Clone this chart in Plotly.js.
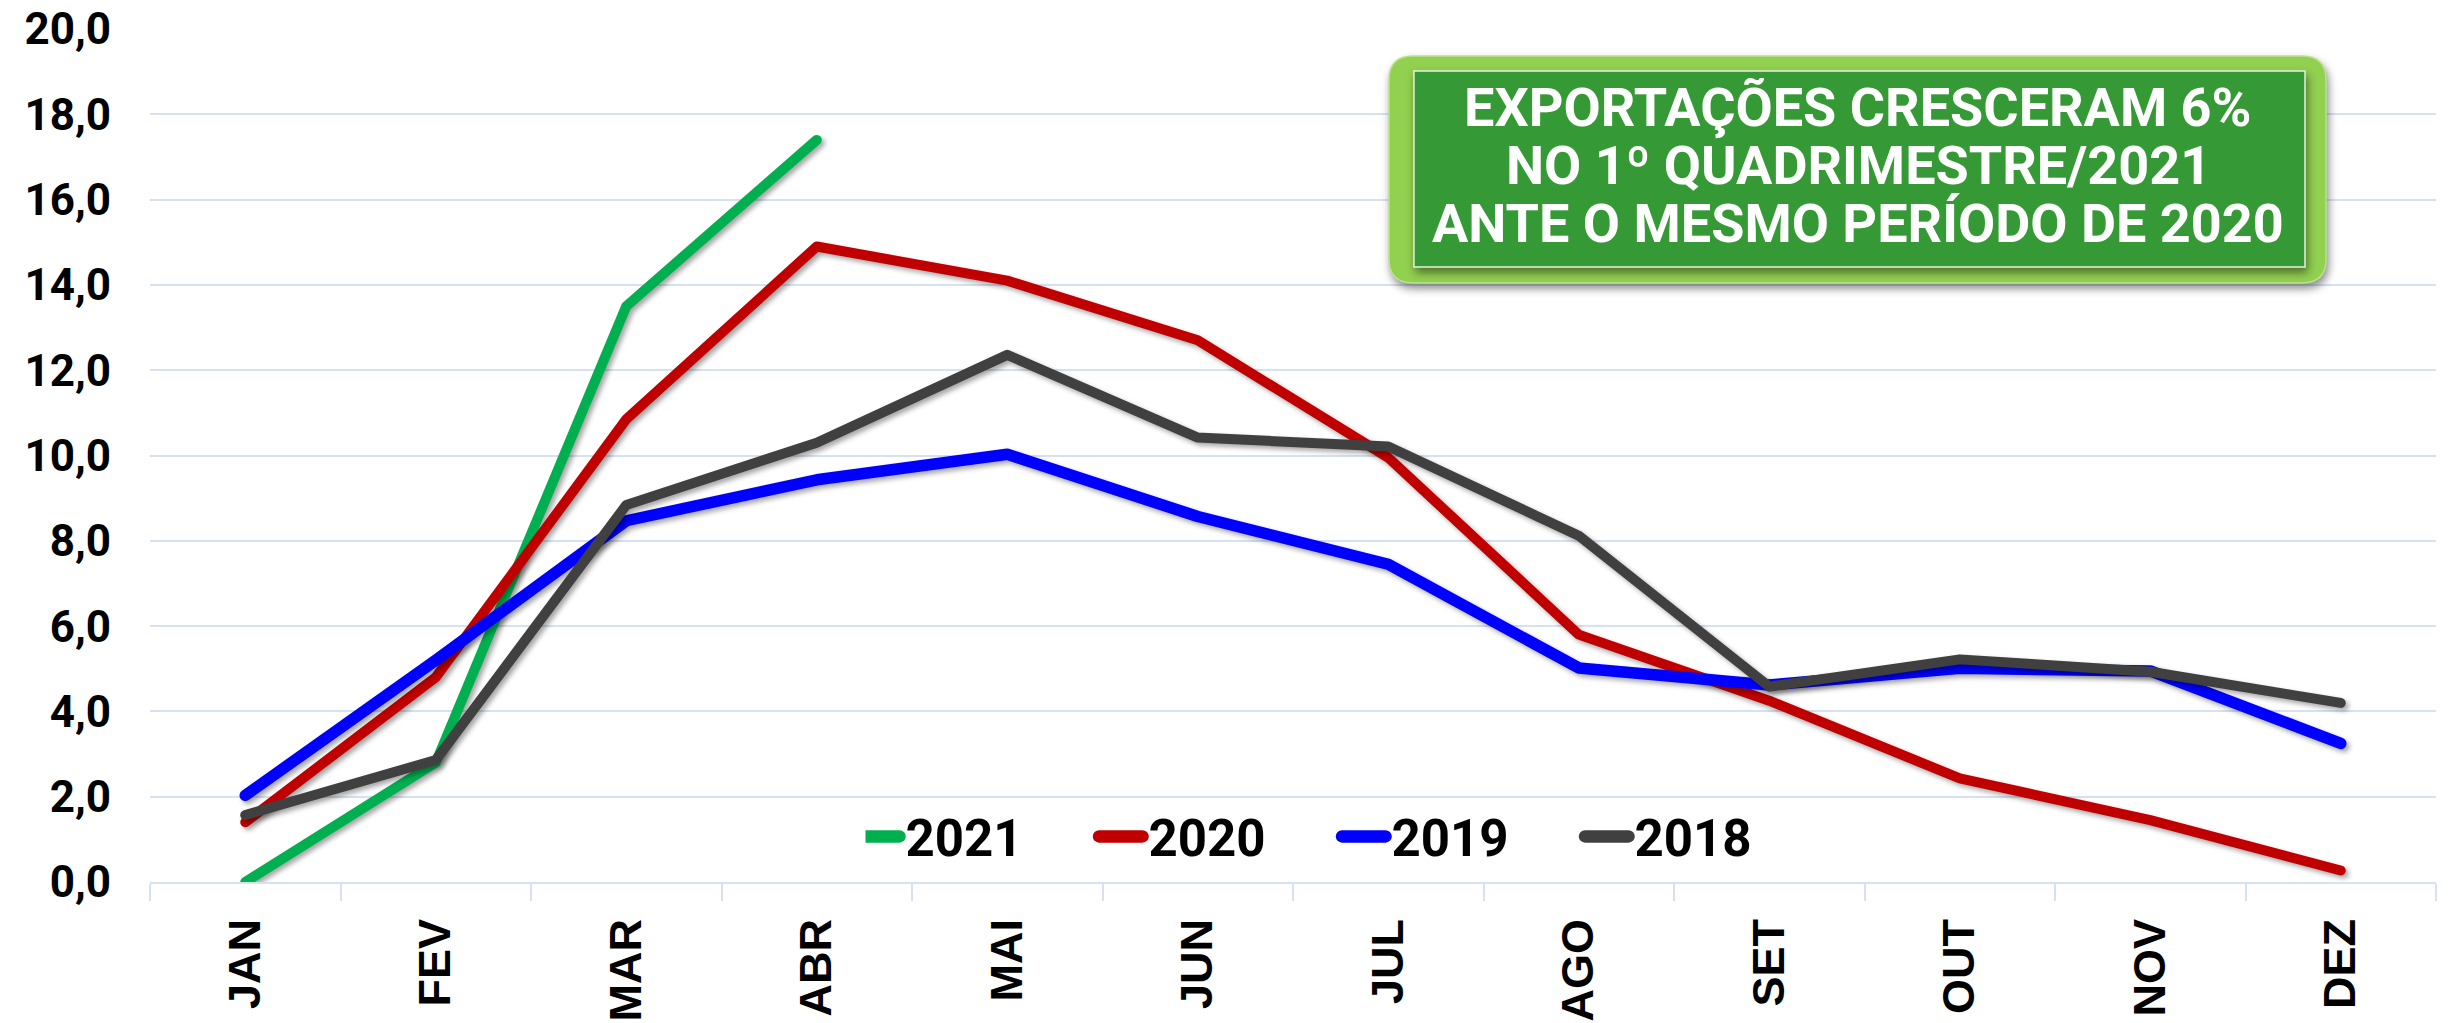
<!DOCTYPE html>
<html>
<head>
<meta charset="utf-8">
<script src="https://cdn.plot.ly/plotly-3.0.1.min.js"></script>
<style>
  html, body { margin: 0; padding: 0; background: #fff; }
  #chart { width: 2456px; height: 1023px; }
  .scatterlayer .js-line {
    stroke-linecap: round !important;
    stroke-linejoin: round !important;
    filter: drop-shadow(3px 3px 2.5px rgba(0,0,0,0.35));
  }
  .infolayer path, .legendlines path, g[class*="legend"] path {
    stroke-linecap: round !important;
    stroke-width: 12.5px !important;
  }
  .shapelayer path:first-child { filter: drop-shadow(2px 5px 4px rgba(0,0,0,0.45)); }
</style>
</head>
<body>
<div id="chart"></div>
<script>
// ---- data ----
const months = ["JAN","FEV","MAR","ABR","MAI","JUN","JUL","AGO","SET","OUT","NOV","DEZ"];
const y2021 = [0.0, 2.8, 13.5, 17.4];
const y2020 = [1.4, 4.8, 10.85, 14.9, 14.1, 12.7, 9.95, 5.8, 4.25, 2.43, 1.45, 0.27];
const y2019 = [2.03, 5.2, 8.47, 9.43, 10.03, 8.57, 7.45, 5.02, 4.62, 5.01, 4.95, 3.25];
const y2018 = [1.57, 2.86, 8.84, 10.3, 12.36, 10.42, 10.21, 8.12, 4.58, 5.22, 4.93, 4.2];
const seriesNames = ["2021", "2020", "2019", "2018"];
const yTickVals = [0, 2, 4, 6, 8, 10, 12, 14, 16, 18, 20];
const yTickText = ["0,0","2,0","4,0","6,0","8,0","10,0","12,0","14,0","16,0","18,0","20,0"];
const boxLines = ["EXPORTAÇÕES CRESCERAM 6%", "NO 1º QUADRIMESTRE/2021", "ANTE O MESMO PERÍODO DE 2020"];

const colors = ["#00b050", "#c00000", "#0000ff", "#404040"];
const widths = [10, 10, 11.5, 10];
const allY = [y2021, y2020, y2019, y2018];

const traces = allY.map((ys, i) => ({
  type: "scatter",
  mode: "lines",
  name: seriesNames[i],
  x: months.slice(0, ys.length),
  y: ys,
  line: { color: colors[i], width: widths[i] },
  cliponaxis: false,
  hoverinfo: "skip"
}));

function roundRect(x0, y0, x1, y1, rx, ry) {
  return `M${x0 + rx},${y1} L${x1 - rx},${y1} Q${x1},${y1} ${x1},${y1 - ry} ` +
         `L${x1},${y0 + ry} Q${x1},${y0} ${x1 - rx},${y0} ` +
         `L${x0 + rx},${y0} Q${x0},${y0} ${x0},${y0 + ry} ` +
         `L${x0},${y1 - ry} Q${x0},${y1} ${x0 + rx},${y1} Z`;
}

const shapes = [
  { type: "path", xref: "paper", yref: "paper", layer: "above",
    path: roundRect(0.5420, 0.7022, 0.9519, 0.9684, 0.0105, 0.0281),
    fillcolor: "#92d050", line: { width: 1.5, color: "#b9e38f" } },
  { type: "rect", xref: "paper", yref: "paper", layer: "above",
    x0: 0.5529, x1: 0.9427, y0: 0.7210, y1: 0.9508,
    fillcolor: "#359a35", line: { width: 1.5, color: "#e6f2dc" } }
];

const boxY = [0.9074, 0.8394, 0.7714];
const annotations = boxLines.map((t, i) => ({
  xref: "paper", yref: "paper", x: 0.7472, y: boxY[i],
  xanchor: "center", yanchor: "middle", showarrow: false,
  text: t,
  font: { family: "Roboto", size: 54, color: "#ffffff", weight: 700 }
}));

const gridColor = "#d6e2f2";

const layout = {
  width: 2456, height: 1023,
  margin: { l: 150, r: 20, t: 29, b: 141, pad: 0 },
  paper_bgcolor: "#ffffff", plot_bgcolor: "#ffffff",
  showlegend: true,
  legend: {
    orientation: "h", x: 0.313, xanchor: "left", y: 0.053, yanchor: "middle",
    font: { family: "Roboto", size: 51, color: "#000000", weight: 700 },
    entrywidth: 198, entrywidthmode: "pixels",
    bgcolor: "rgba(0,0,0,0)", borderwidth: 0
  },
  xaxis: {
    type: "category", categoryarray: months, categoryorder: "array",
    range: [-0.5, 11.5],
    tickson: "boundaries", ticks: "outside", ticklen: 17, tickwidth: 2, tickcolor: gridColor,
    showline: true, linecolor: gridColor, linewidth: 2,
    showgrid: false, zeroline: false,
    tickangle: -90, ticklabelstandoff: 17,
    tickfont: { family: "Liberation Sans", size: 45, color: "#000000", weight: 700 }
  },
  yaxis: {
    range: [0, 20], tickmode: "array", tickvals: yTickVals, ticktext: yTickText,
    showgrid: true, gridcolor: gridColor, gridwidth: 2,
    zeroline: false, showline: false, ticks: "",
    ticklabelstandoff: 38,
    tickfont: { family: "Roboto", size: 44, color: "#000000", weight: 700 }
  },
  shapes: shapes,
  annotations: annotations
};

function fixLegend() {
  const gd = document.getElementById("chart");
  gd.querySelectorAll("path").forEach(p => {
    let el = p, inLegend = false;
    while (el && el !== gd) {
      const c = (el.getAttribute && el.getAttribute("class")) || "";
      if (/legend/.test(c)) { inLegend = true; break; }
      el = el.parentNode;
    }
    if (!inLegend) return;
    const d = p.getAttribute("d") || "";
    if (/^M5,0h30/.test(d.replace(/\s/g, "")) || /^M-9\.5/.test(d)) {
      p.setAttribute("d", "M-9.5,0h43.5");
    }
    p.style.setProperty("stroke-width", "12.5px", "important");
    p.style.setProperty("stroke-linecap", "round", "important");
  });
}

Plotly.newPlot("chart", traces, layout, { staticPlot: true, displayModeBar: false }).then(() => {
  fixLegend();
  setTimeout(fixLegend, 50);
  setTimeout(fixLegend, 300);
});
</script>
</body>
</html>
